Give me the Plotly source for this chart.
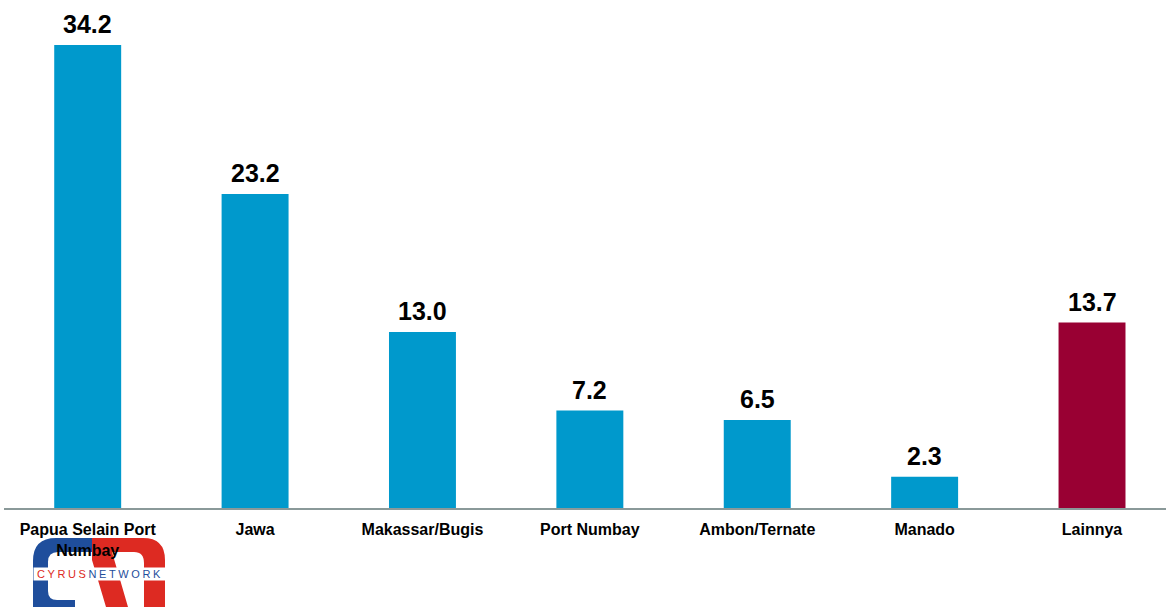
import plotly.graph_objects as go

categories = ["Papua Selain Port<br>Numbay", "Jawa", "Makassar/Bugis", "Port Numbay",
              "Ambon/Ternate", "Manado", "Lainnya"]
values = [34.2, 23.2, 13.0, 7.2, 6.5, 2.3, 13.7]
bar_colors = ["#0099CC"] * 6 + ["#990033"]
value_labels = [f"{v:.1f}" for v in values]

W, H = 1166, 607
ML, MR, MT, MB = 4, 0, 0, 99
PW, PH = W - ML - MR, H - MT - MB

fig = go.Figure()
fig.add_trace(go.Bar(x=categories, y=values, marker=dict(color=bar_colors, line=dict(width=0)),
                     hoverinfo="x+y"))

for c, v, t in zip(categories, values, value_labels):
    fig.add_annotation(x=c, y=v, text=f"<b>{t}</b>", showarrow=False, yanchor="bottom",
                       yshift=5, font=dict(family="Liberation Sans, Arial", size=25, color="#000000"))


def px(x, y):
    return (x - ML) / PW, (H - MB - y) / PH


def path(points_cmds):
    out = []
    for cmd, pts in points_cmds:
        coords = " ".join(f"{a:.5f},{b:.5f}" for a, b in (px(*p) for p in pts))
        out.append(f"{cmd}{coords}")
    return " ".join(out) + " Z"


blue_c = path([
    ("M", [(100, 538)]), ("L", [(56, 538)]), ("Q", [(33, 538), (33, 561)]),
    ("L", [(33, 607)]), ("L", [(75, 607)]), ("L", [(75, 600)]), ("L", [(57, 600)]),
    ("Q", [(48, 600), (48, 591)]), ("L", [(48, 562)]), ("Q", [(48, 552), (58, 552)]),
    ("L", [(100, 552)]),
])
red_n = path([
    ("M", [(92, 538)]), ("L", [(143, 538)]), ("Q", [(165, 538), (165, 560)]),
    ("L", [(165, 607)]), ("L", [(144, 607)]), ("L", [(144, 563)]),
    ("Q", [(144, 552), (134, 552)]), ("L", [(112, 552)]), ("L", [(128, 607)]),
    ("L", [(106, 607)]), ("L", [(92, 560)]),
])
fig.add_shape(type="path", path=blue_c, xref="paper", yref="paper", fillcolor="#1f4e9c",
              line=dict(width=0), layer="below")
fig.add_shape(type="path", path=red_n, xref="paper", yref="paper", fillcolor="#dd2a22",
              line=dict(width=0), layer="below")
lx, ly = px(99.5, 574)
fig.add_annotation(x=lx, y=ly, xref="paper", yref="paper", showarrow=False,
                   xanchor="center", yanchor="middle",
                   text="<span style='color:#dd2a22;letter-spacing:2.6px'>CYRUS</span>"
                        "<span style='color:#1f4e9c;letter-spacing:2.6px'>NETWORK</span>",
                   font=dict(family="Liberation Sans, Arial", size=11), bgcolor="#ffffff",
                   width=132, height=12, borderpad=0, align="center")

fig.update_layout(
    width=W, height=H,
    margin=dict(l=ML, r=MR, t=MT, b=MB, pad=0),
    paper_bgcolor="#ffffff", plot_bgcolor="#ffffff",
    bargap=0.6, showlegend=False,
    xaxis=dict(type="category", range=[-0.5, 6.442], showgrid=False, zeroline=False,
               showline=True, linecolor="#8a9999", linewidth=2, ticks="",
               ticklabelstandoff=6,
               tickfont=dict(family="Liberation Sans, Arial", size=16, color="#000000", weight="bold")),
    yaxis=dict(range=[0, 37.52], visible=False, showgrid=False, zeroline=False),
)

fig.write_html("out.html", config={"displayModeBar": False})
with open("out.html", "r", encoding="utf-8") as f:
    html = f.read()
html = html.replace("<body>", "<body style=\"margin:0;padding:0;overflow:hidden\">", 1)
with open("out.html", "w", encoding="utf-8") as f:
    f.write(html)
